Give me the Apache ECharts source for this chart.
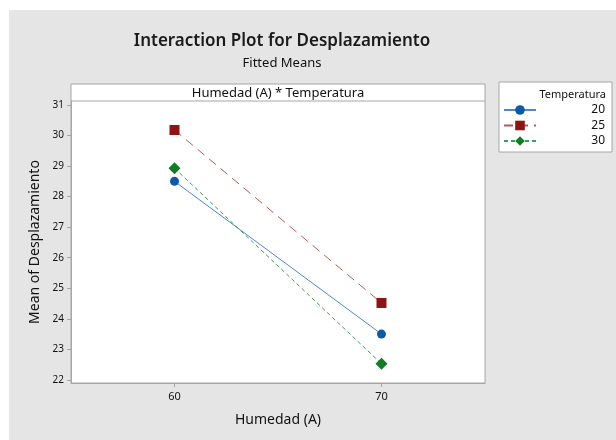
<!DOCTYPE html>
<html>
<head>
<meta charset="utf-8">
<script src="https://cdn.jsdelivr.net/npm/echarts@6/dist/echarts.min.js"></script>
<style>
  html, body { margin: 0; padding: 0; background: #fff; }
  #chart { width: 616px; height: 440px; }
</style>
</head>
<body>
<div id="chart"></div>
<script>
  // Interaction plot — fitted means of Desplazamiento by Humedad (A) and Temperatura
  const humedad = [60, 70];
  const temps = ['20', '25', '30'];
  const means20 = [28.5, 23.5];
  const means25 = [30.18, 24.52];
  const means30 = [28.93, 22.53];
  const yTicks = [22, 23, 24, 25, 26, 27, 28, 29, 30, 31];

  const FONT = '"Noto Sans", "DejaVu Sans", sans-serif';
  const pair = vals => humedad.map((h, i) => [h, vals[i]]);

  const styles = {
    '20': { marker: '#0b5aa8', line: '#4f86c6', type: 'solid', symbol: 'circle', size: 9 },
    '25': { marker: '#8c1414', line: '#b55a5a', type: [9, 6], symbol: 'rect', size: 10 },
    '30': { marker: '#117d25', line: '#3f9c50', type: [4, 3], symbol: 'diamond', size: 12 }
  };
  const seriesData = { '20': means20, '25': means25, '30': means30 };

  const chart = echarts.init(document.getElementById('chart'), null, { renderer: 'canvas' });
  chart.setOption({
    backgroundColor: '#fff',
    animation: false,
    textStyle: { fontFamily: FONT },
    title: [
      { text: 'Interaction Plot for Desplazamiento', left: 277, top: 28, textAlign: 'center',
        textStyle: { fontSize: 17, fontWeight: 600, color: '#1a1a1a', fontFamily: FONT } },
      { text: 'Fitted Means', left: 277, top: 52, textAlign: 'center',
        textStyle: { fontSize: 13, fontWeight: 'normal', color: '#111', fontFamily: FONT } }
    ],
    graphic: [
      { type: 'rect', z: -10, silent: true, shape: { x: 9, y: 10, width: 607, height: 430 },
        style: { fill: '#e5e5e5' } },
      // plot frame + header strip
      { type: 'rect', z: -5, silent: true, shape: { x: 71, y: 84, width: 414, height: 299 },
        style: { fill: '#fff', stroke: '#a6a6a6', lineWidth: 1 } },
      { type: 'line', z: 5, silent: true, shape: { x1: 71, y1: 101, x2: 485, y2: 101 },
        style: { stroke: '#a6a6a6', lineWidth: 1 } },
      { type: 'text', z: 5, silent: true, x: 278, y: 93,
        style: { text: 'Humedad (A) * Temperatura', fontSize: 13, fontFamily: FONT, fill: '#111',
                 align: 'center', verticalAlign: 'middle' } },
      // legend box
      { type: 'rect', z: -5, silent: true, shape: { x: 499, y: 82, width: 113, height: 70 },
        style: { fill: '#fff', stroke: '#a6a6a6', lineWidth: 1 } },
      { type: 'text', z: 5, silent: true, x: 606, y: 95,
        style: { text: 'Temperatura', fontSize: 11, fontFamily: FONT, fill: '#111',
                 align: 'right', verticalAlign: 'middle' } }
    ],
    legend: {
      orient: 'vertical', left: 503, top: 104, itemWidth: 32, itemHeight: 12, itemGap: 3.5,
      padding: 0, data: temps,
      formatter: '{a|{name}}',
      textStyle: { fontFamily: FONT, fontSize: 12, color: '#111',
        rich: { a: { width: 64, align: 'right', fontSize: 12, fontFamily: FONT } } }
    },
    grid: { left: 71, right: 131, top: 101, bottom: 57 },
    xAxis: {
      type: 'value', min: 55, max: 75,
      name: 'Humedad (A)', nameLocation: 'middle', nameGap: 30,
      nameTextStyle: { fontSize: 14, color: '#111', fontFamily: FONT },
      axisLine: { show: true, onZero: false, lineStyle: { color: '#a6a6a6' } },
      axisTick: { show: true, length: 4, customValues: humedad, lineStyle: { color: '#a6a6a6' } },
      axisLabel: { customValues: humedad, color: '#111', fontSize: 11, margin: 8, fontFamily: FONT },
      splitLine: { show: false }
    },
    yAxis: {
      type: 'value', min: 21.9, max: 31.13,
      name: 'Mean of Desplazamiento', nameLocation: 'middle', nameGap: 27,
      nameTextStyle: { fontSize: 14, color: '#111', fontFamily: FONT },
      axisLine: { show: true, onZero: false, lineStyle: { color: '#a6a6a6' } },
      axisTick: { show: true, length: 4, customValues: yTicks, lineStyle: { color: '#a6a6a6' } },
      axisLabel: { customValues: yTicks, color: '#111', fontSize: 10, margin: 7, fontFamily: FONT },
      splitLine: { show: false }
    },
    series: temps.map(t => {
      const s = styles[t];
      return {
        name: t, type: 'line', data: pair(seriesData[t]),
        symbol: s.symbol, symbolSize: s.size,
        itemStyle: { color: s.marker },
        lineStyle: { color: s.line, width: 1, type: s.type }
      };
    })
  });
</script>
</body>
</html>
